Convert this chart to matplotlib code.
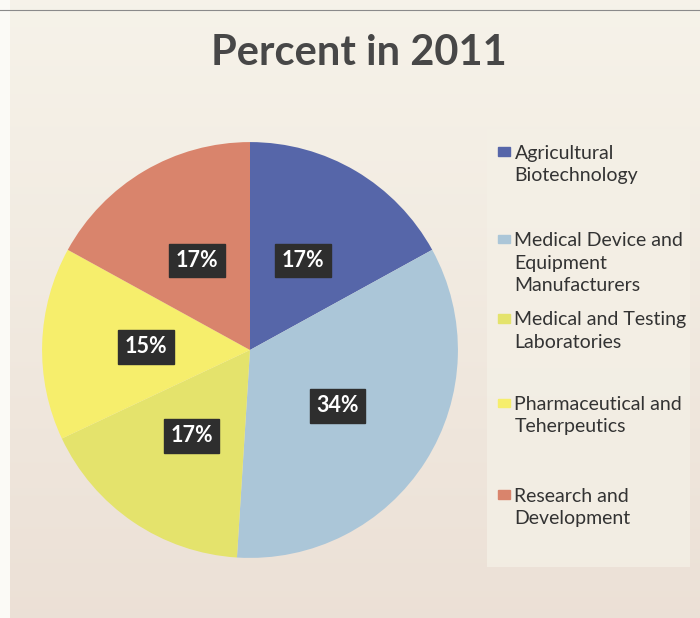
import numpy as np
import matplotlib.pyplot as plt
from matplotlib.patches import Rectangle

# Data
categories = ["Agricultural\nBiotechnology",
              "Medical Device and\nEquipment\nManufacturers",
              "Medical and Testing\nLaboratories",
              "Pharmaceutical and\nTeherpeutics",
              "Research and\nDevelopment"]
percents = [17, 34, 17, 15, 17]
colors = ["#5666a9", "#abc6d8", "#e4e36c", "#f6ee6c", "#d9846c"]
legend_y = [0.766, 0.624, 0.496, 0.359, 0.211]   # top of each legend entry (fig coords)

plt.rcParams['font.family'] = ['Lato', 'DejaVu Sans']

fig = plt.figure(figsize=(7, 6.18), dpi=100)

# paper-like background with a soft vertical gradient
bg = fig.add_axes([0, 0, 1, 1], zorder=-10)
grad = np.linspace(0, 1, 256).reshape(-1, 1)
top = np.array([0.965, 0.952, 0.915])
bot = np.array([0.925, 0.88, 0.84])
img = top + (bot - top) * grad[..., None]
img = img.reshape(256, 1, 3)
bg.imshow(img, aspect='auto', extent=[0, 1, 0, 1], origin='upper')
bg.add_patch(Rectangle((0, 0), 0.014, 1, color="#fbfaf6", lw=0))
bg.axhline(0.984, color="#8a8a8a", lw=0.8)
bg.add_patch(Rectangle((0.696, 0.082), 0.29, 0.71, color="#f4f0e6", lw=0, alpha=0.8))
bg.set_xlim(0, 1)
bg.set_ylim(0, 1)
bg.axis('off')

fig.text(0.512, 0.914, "Percent in 2011", ha='center', va='center',
         fontsize=30, fontweight='bold', color="#474747")

ax = fig.add_axes([40 / 700, 58 / 618, 420 / 700, 420 / 618])
wedges, texts = ax.pie(percents, colors=colors, startangle=90, counterclock=False,
                       radius=1.0, labels=[f"{p}%" for p in percents],
                       labeldistance=0.5, wedgeprops=dict(linewidth=0))
for t in texts:
    t.set_ha('center')
    t.set_va('center')
    t.set_color('white')
    t.set_fontsize(15.5)
    t.set_fontweight('bold')
    t.set_bbox(dict(boxstyle='square,pad=0.3', fc='#2e2e2e', ec='#2e2e2e'))
ax.set_xlim(-1.01, 1.01)
ax.set_ylim(-1.01, 1.01)
ax.set_aspect('equal')

# legend drawn by hand so the uneven spacing can be kept
for name, c, y in zip(categories, colors, legend_y):
    fig.patches.append(Rectangle((0.711, y - 0.018), 0.017, 0.014, color=c,
                                 transform=fig.transFigure, figure=fig))
    fig.text(0.735, y, name, ha='left', va='top', fontsize=14,
             color="#333333", linespacing=1.38)

fig.savefig("out.png", dpi=100)
